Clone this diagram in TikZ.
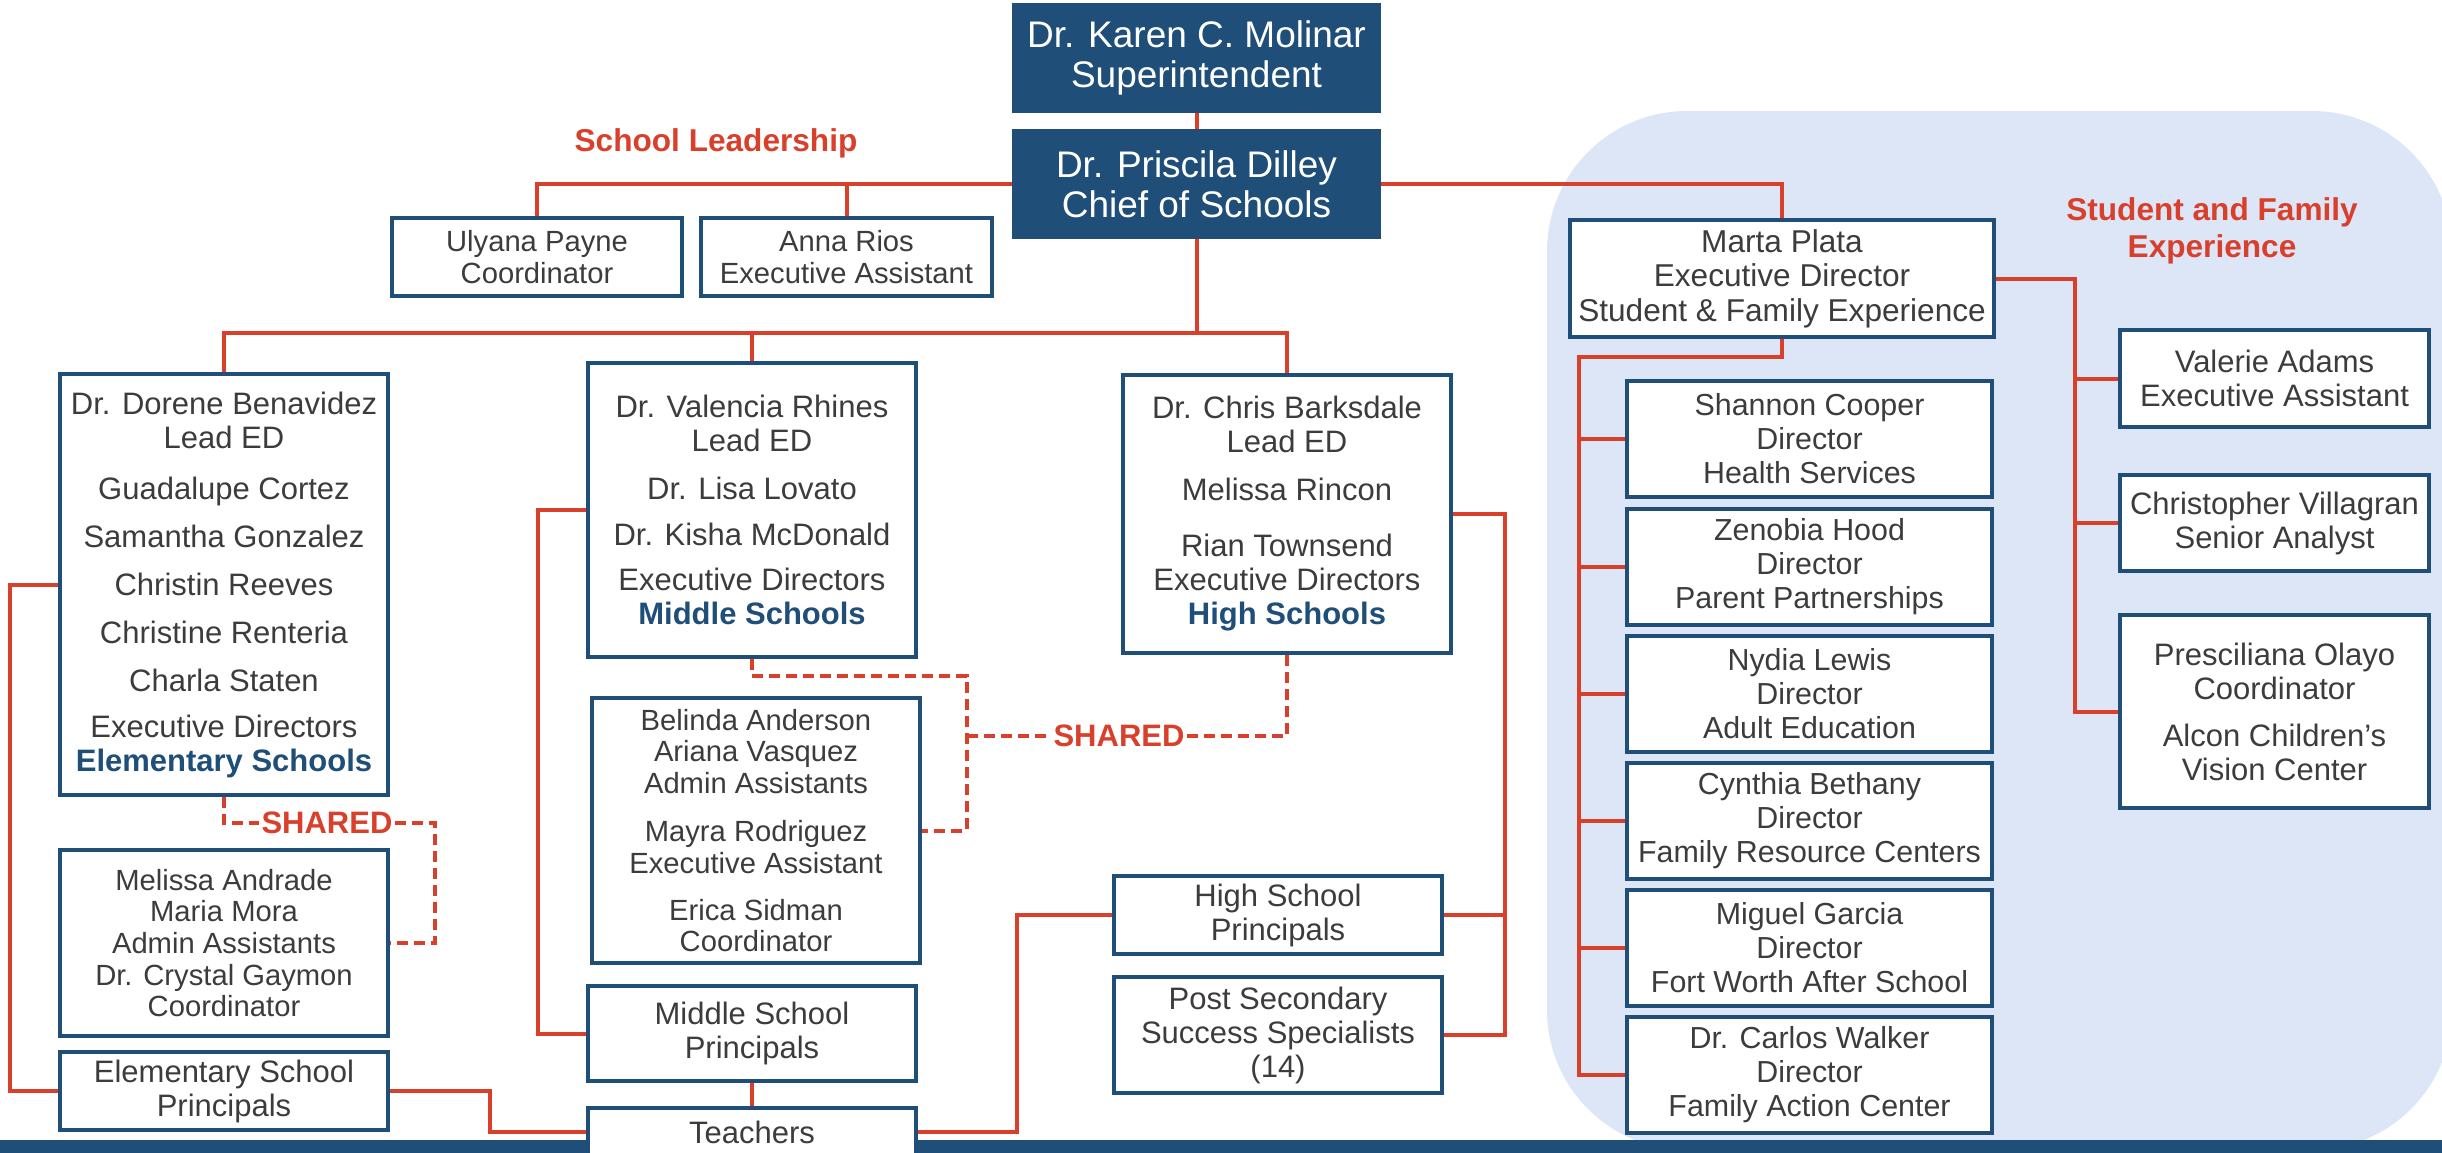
\documentclass[tikz,border=0pt]{standalone}
\usepackage{fontspec}
\setmainfont{Liberation Sans}
\usetikzlibrary{backgrounds}
\definecolor{boxblue}{RGB}{31,78,121}
\definecolor{lred}{RGB}{217,64,43}
\definecolor{bgblue}{RGB}{220,230,246}
\definecolor{txt}{RGB}{60,60,60}
\newcommand\myfs[2]{\fontsize{#1pt}{#2pt}\selectfont}
\newcommand\ttl[1]{{\bfseries\color{boxblue}#1}}
\begin{document}
\begin{tikzpicture}[x=0.5pt,y=-0.5pt,
 box/.style={draw=boxblue, line width=2.2pt, fill=white, text=txt, align=center, inner sep=0pt, font=\myfs{15.5}{17}},
 sbox/.style={box, font=\myfs{14.6}{15.8}},
 dbox/.style={box, font=\myfs{15.2}{17}, minimum width=182.5pt, minimum height=58pt},
 rbox/.style={box, minimum width=154.5pt},
 topbox/.style={box, fill=boxblue, text=white, font=\myfs{18.5}{19.8}, minimum width=182.5pt, minimum height=53pt},
 conn/.style={draw=lred, line width=2pt},
 shared/.style={draw=lred, line width=2pt, dash pattern=on 5.5pt off 3pt},
 head/.style={text=lred, font=\bfseries\myfs{15.8}{18.5}, align=center, inner sep=1pt},
]
\useasboundingbox (0,0) rectangle (2442,1152);

% nodes
\node[topbox] (sup) at (1196.5,58) {Dr. Karen C. Molinar\\Superintendent};
\node[topbox] (chief) at (1196.5,184) {Dr. Priscila Dilley\\Chief of Schools};
\node[head] (lead) at (716,143) {School Leadership};
\node[sbox, minimum width=145pt, minimum height=39pt] (ulyana) at (537,257) {Ulyana Payne\\Coordinator};
\node[sbox, minimum width=145.5pt, minimum height=39pt] (anna) at (846.5,257) {Anna Rios\\Executive Assistant};

\node[box, minimum width=164pt, minimum height=210.5pt] (benav) at (224,584.5) {Dr. Dorene Benavidez\\Lead ED\\[8.5pt] Guadalupe Cortez\\[7pt] Samantha Gonzalez\\[7pt] Christin Reeves\\[7pt] Christine Renteria\\[7pt] Charla Staten\\[6pt] Executive Directors\\ \ttl{Elementary Schools}};
\node[sbox, minimum width=164pt, minimum height=93pt] (andrade) at (224,943) {Melissa Andrade\\Maria Mora\\Admin Assistants\\Dr. Crystal Gaymon\\Coordinator};
\node[box, minimum width=164pt, minimum height=39pt] (esp) at (224,1091) {Elementary School\\Principals};

\node[box, minimum width=164pt, minimum height=147pt] (rhines) at (752,510) {Dr. Valencia Rhines\\Lead ED\\[7pt] Dr. Lisa Lovato\\[6pt] Dr. Kisha McDonald\\[5.5pt] Executive Directors\\ \ttl{Middle Schools}};
\node[sbox, minimum width=164pt, minimum height=132.5pt] (belinda) at (756,830.5) {Belinda Anderson\\Ariana Vasquez\\Admin Assistants\\[8.5pt] Mayra Rodriguez\\Executive Assistant\\[7.5pt] Erica Sidman\\Coordinator};
\node[box, minimum width=164pt, minimum height=47.5pt] (msp) at (752,1033.5) {Middle School\\Principals};

\node[box, minimum width=164pt, minimum height=139pt] (barks) at (1287,514) {Dr. Chris Barksdale\\Lead ED\\[7pt] Melissa Rincon\\[11pt] Rian Townsend\\Executive Directors\\ \ttl{High Schools}};
\node[box, minimum width=164pt, minimum height=39pt] (hsp) at (1278,915) {High School\\Principals};
\node[box, minimum width=164pt, minimum height=58pt] (pss) at (1278,1035) {Post Secondary\\Success Specialists\\(14)};

\node[box, font=\myfs{15.8}{17.2}, minimum width=212pt, minimum height=58.5pt] (marta) at (1782,278.5) {Marta Plata\\Executive Director\\Student \& Family Experience};
\node[head] (sfe) at (2212,231) {Student and Family\\Experience};
\node[dbox] (d1) at (1809.5,439) {Shannon Cooper\\Director\\Health Services};
\node[dbox] (d2) at (1809.5,567) {Zenobia Hood\\Director\\Parent Partnerships};
\node[dbox] (d3) at (1809.5,694) {Nydia Lewis\\Director\\Adult Education};
\node[dbox] (d4) at (1809.5,821) {Cynthia Bethany\\Director\\Family Resource Centers};
\node[dbox] (d5) at (1809.5,948) {Miguel Garcia\\Director\\Fort Worth After School};
\node[dbox] (d6) at (1809.5,1075) {Dr. Carlos Walker\\Director\\Family Action Center};
\node[rbox, minimum height=48.5pt] (valerie) at (2274.5,378.5) {Valerie Adams\\Executive Assistant};
\node[rbox, minimum height=48pt] (chris) at (2274.5,523) {Christopher Villagran\\Senior Analyst};
\node[rbox, minimum height=96.5pt] (presc) at (2274.5,711.5) {Presciliana Olayo\\Coordinator\\[6.5pt] Alcon Children’s\\Vision Center};

\node[head, font=\bfseries\myfs{15.5}{17}] (sh1) at (327,823) {SHARED};
\node[head, font=\bfseries\myfs{15.5}{17}] (sh2) at (1119,736) {SHARED};

\begin{pgfonlayer}{background}
\fill[bgblue, rounded corners=70pt] (1547,111) rectangle (2452,1150);
\fill[boxblue] (0,1140) rectangle (2442,1160);
% connectors
\draw[conn] (sup) -- (chief);
\draw[conn] (chief.west) -| (ulyana.north);
\draw[conn] (chief.west -| anna.north) -- (anna.north);
\draw[conn] (chief.east) -| (marta.north);
\coordinate (sbus) at (1196.5,333);
\draw[conn] (chief.south) -- (sbus);
\draw[conn] (benav.north) |- (sbus) -| (barks.north);
\draw[conn] (rhines.north) -- (rhines.north |- sbus);
\draw[conn] (benav.west) -- ++(-48,0) |- (esp.west);
\draw[conn] (rhines.west) -- ++(-48,0) |- (msp.west);
\draw[conn] (barks.east) -- ++(52,0) coordinate (hsr) |- (pss.east);
\draw[conn] (hsp.east) -- (hsp.east -| hsr);
\coordinate (mbl) at (1579,357);
\draw[conn] (marta.south) |- (mbl) |- (d6.west);
\foreach \d in {d1,d2,d3,d4,d5} \draw[conn] (\d.west) -- (\d.west -| mbl);
\coordinate (mr) at (2075,278.5);
\draw[conn] (marta.east) -- (mr) |- (presc.west);
\draw[conn] (valerie.west) -- (valerie.west -| mr);
\draw[conn] (chris.west) -- (chris.west -| mr);
% shared
\draw[shared] (benav.south) |- (sh1.west);
\coordinate (sc1) at (435,823);
\draw[shared] (sh1.east) -- (sc1) |- (andrade.east);
\coordinate (sc2) at (967,676);
\draw[shared] (rhines.south) |- (sc2) |- (belinda.east);
\draw[shared] (sc2 |- sh2.west) -- (sh2.west);
\draw[shared] (sh2.east) -| (barks.south);
\end{pgfonlayer}

\node[box, minimum width=164pt, minimum height=24pt] (teachers) at (752,1132) {Teachers};
\draw[conn] (msp) -- (teachers);
\draw[conn] (esp.east) -- ++(100,0) |- (teachers.west);
\draw[conn] (teachers.east) -- ++(99,0) |- (hsp.west);
\end{tikzpicture}
\end{document}
